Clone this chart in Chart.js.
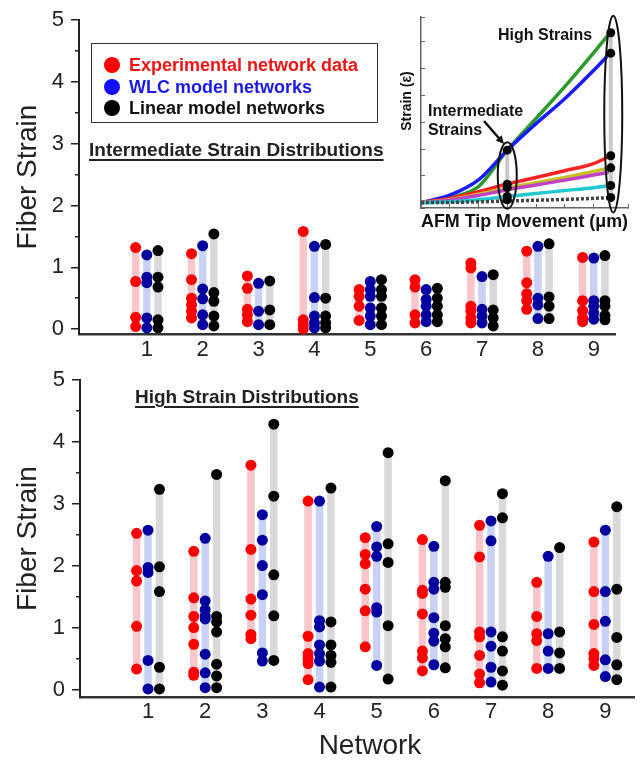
<!DOCTYPE html>
<html>
<head>
<meta charset="utf-8">
<script src="https://cdn.jsdelivr.net/npm/chart.js"></script>
<style>
  body { margin: 0; width: 640px; height: 760px; overflow: hidden; position: relative; background: #fff;
         font-family: "Liberation Sans", Arial, sans-serif; }
  canvas { position: absolute; }
  .txt { position: absolute; white-space: nowrap; }
  .legend { position: absolute; left: 91px; top: 43px; width: 285px; height: 78px; border: 1.5px solid #333; }
  .row { position: absolute; left: 12px; height: 22px; line-height: 22px; font-weight: bold; font-size: 18px; }
  .dot { display: inline-block; width: 16px; height: 16px; border-radius: 50%; vertical-align: -2px; margin-right: 9px; }
  .sub { font-weight: bold; font-size: 19px; line-height: 19px; color: #222; text-decoration: underline;
         text-decoration-thickness: 2px; text-underline-offset: 3px; }
  .ins { font-weight: bold; font-size: 16px; line-height: 16px; color: #111; }
</style>
</head>
<body>
<canvas id="topChart" width="640" height="360" style="left:0;top:0"></canvas>
<canvas id="bottomChart" width="640" height="400" style="left:0;top:360px"></canvas>
<canvas id="insetChart" width="260" height="240" style="left:380px;top:0"></canvas>

<div class="legend">
  <div class="row" style="top:10px;color:#f01414"><span class="dot" style="background:#ff0000"></span>Experimental network data</div>
  <div class="row" style="top:32px;color:#1a1ae6"><span class="dot" style="background:#1010ff"></span>WLC model networks</div>
  <div class="row" style="top:53px;color:#111"><span class="dot" style="background:#000"></span>Linear model networks</div>
</div>
<div class="txt sub" style="left:89px;top:140px">Intermediate Strain Distributions</div>
<div class="txt sub" style="left:135px;top:387px">High Strain Distributions</div>
<div class="txt" style="left:370px;top:745px;transform:translate(-50%,-50%);font-size:28px;color:#222">Network</div>

<div class="txt ins" style="left:498px;top:27px">High Strains</div>
<div class="txt ins" style="left:428px;top:103px">Intermediate</div>
<div class="txt ins" style="left:428px;top:122px">Strains</div>
<div class="txt" style="left:406px;top:101px;transform:translate(-50%,-50%) rotate(-90deg);font-weight:bold;font-size:14px;color:#111">Strain (ε)</div>

<script>
// networks on the x axis
var networks = [1, 2, 3, 4, 5, 6, 7, 8, 9];

// intermediate strain distributions (fiber strain values per network)
var interExp = [
  [1.32, 0.77, 0.19, 0.04],
  [1.22, 0.80, 0.50, 0.39, 0.29, 0.18],
  [0.86, 0.66, 0.32, 0.23, 0.12],
  [1.58, 0.15, 0.07, 0.00],
  [0.64, 0.53, 0.37, 0.14],
  [0.80, 0.68, 0.23, 0.10],
  [1.07, 0.99, 0.37, 0.29, 0.18, 0.10],
  [1.26, 0.75, 0.57, 0.46, 0.32],
  [1.16, 0.46, 0.30, 0.18, 0.12]
];
var interWlc = [
  [1.20, 0.84, 0.75, 0.18, 0.02],
  [1.35, 0.65, 0.49, 0.23, 0.07],
  [0.74, 0.29, 0.07],
  [1.34, 0.51, 0.21, 0.10, 0.02],
  [0.77, 0.64, 0.53, 0.34, 0.21, 0.07],
  [0.64, 0.48, 0.37, 0.23, 0.12],
  [0.85, 0.32, 0.21, 0.10],
  [1.34, 0.50, 0.39, 0.17],
  [1.15, 0.46, 0.37, 0.26, 0.16]
];
var interLin = [
  [1.27, 0.84, 0.68, 0.15, 0.02],
  [1.54, 0.59, 0.45, 0.21, 0.05],
  [0.78, 0.31, 0.07],
  [1.37, 0.50, 0.21, 0.10, 0.02],
  [0.80, 0.64, 0.53, 0.34, 0.21, 0.07],
  [0.66, 0.50, 0.37, 0.23, 0.12],
  [0.88, 0.31, 0.18, 0.05],
  [1.38, 0.52, 0.37, 0.17],
  [1.19, 0.46, 0.37, 0.22, 0.15]
];

// high strain distributions
var highExp = [
  [2.53, 1.93, 1.76, 1.03, 0.34],
  [2.24, 1.49, 1.19, 1.01, 0.74, 0.29, 0.24],
  [3.63, 2.27, 1.47, 1.21, 0.90, 0.83],
  [3.05, 0.87, 0.59, 0.51, 0.43, 0.17],
  [2.46, 2.19, 2.04, 1.63, 1.28, 0.70],
  [2.43, 1.61, 1.56, 1.23, 0.63, 0.52, 0.31],
  [2.66, 2.15, 0.94, 0.86, 0.56, 0.26, 0.12],
  [1.74, 1.19, 0.91, 0.80, 0.35],
  [2.39, 1.59, 1.06, 0.59, 0.51, 0.40]
];
var highWlc = [
  [2.58, 1.98, 1.90, 0.48, 0.02],
  [2.45, 1.44, 1.30, 1.20, 1.15, 0.58, 0.28, 0.04],
  [2.83, 2.42, 2.01, 1.54, 0.60, 0.47],
  [3.05, 1.12, 1.02, 0.73, 0.59, 0.47, 0.05],
  [2.64, 2.31, 2.16, 1.33, 1.26, 0.40],
  [2.32, 1.74, 1.63, 1.17, 0.92, 0.79, 0.41],
  [2.73, 2.41, 0.94, 0.71, 0.37, 0.13],
  [2.16, 0.91, 0.63, 0.35],
  [2.58, 1.59, 1.11, 0.49, 0.22]
];
var highLin = [
  [3.24, 1.99, 1.59, 0.37, 0.02],
  [3.48, 1.19, 1.10, 0.94, 0.42, 0.23, 0.04],
  [4.29, 3.13, 1.86, 1.20, 0.48],
  [3.26, 1.10, 0.73, 0.56, 0.45, 0.05],
  [3.83, 2.36, 2.06, 1.04, 0.18],
  [3.38, 1.74, 1.66, 1.04, 0.83, 0.70, 0.36],
  [3.17, 2.78, 0.86, 0.63, 0.31, 0.08],
  [2.30, 0.94, 0.60, 0.35],
  [2.96, 1.63, 0.85, 0.41, 0.17]
];

// inset: strain vs AFM tip movement
var tipMovement = [0, 1, 2, 3, 4, 5, 6, 6.6];
var curveGreen   = [0, 0.19, 0.60, 1.96, 3.14, 4.33, 5.59, 6.38];
var curveBlue    = [0, 0.28, 0.85, 1.96, 2.95, 3.88, 4.93, 5.61];
var curveRed     = [0, 0.16, 0.41, 0.70, 0.94, 1.19, 1.46, 1.75];
var curveYellow  = [0, 0.11, 0.31, 0.54, 0.74, 0.94, 1.16, 1.30];
var curveMagenta = [0, 0.09, 0.27, 0.48, 0.66, 0.84, 1.03, 1.14];
var curveCyan    = [0, 0.03, 0.11, 0.23, 0.34, 0.45, 0.56, 0.64];
var curveBlack   = [0, 0.01, 0.03, 0.06, 0.09, 0.12, 0.16, 0.19];
var interTip = 3, highTip = 6.6;
var interDots = [1.96, 0.69, 0.56, 0.23, 0.11];
var highDots = [6.34, 5.58, 1.75, 1.30, 0.64, 0.19];

Chart.defaults.font.family = '"Liberation Sans", Arial, sans-serif';
Chart.defaults.color = '#222';

function dotPoints(groups, off) {
  var pts = [];
  groups.forEach(function(g, i) {
    g.forEach(function(v) { pts.push({x: networks[i] + off, y: v}); });
  });
  return pts;
}
function rangePoints(groups, off) {
  var pts = [];
  groups.forEach(function(g, i) {
    var x = networks[i] + off;
    pts.push({x: x, y: Math.min.apply(null, g)}, {x: x, y: Math.max.apply(null, g)}, {x: x, y: null});
  });
  return pts;
}

function strainDatasets(exp, wlc, lin) {
  var series = [
    [exp, -0.2, '#ff0000', '#f8c6cb'],
    [wlc, 0, '#0000a0', '#c9d1f4'],
    [lin, 0.2, '#000000', '#d9d9d9']
  ];
  var sets = [];
  series.forEach(function(s) {
    sets.push({data: dotPoints(s[0], s[1]), backgroundColor: s[2], borderWidth: 0,
               pointRadius: 5.5, pointHoverRadius: 5.5, clip: false, order: 0});
    sets.push({data: rangePoints(s[0], s[1]), showLine: true, spanGaps: false, borderColor: s[3],
               borderWidth: 7.5, pointRadius: 0, order: 1});
  });
  return sets;
}

function strainOptions(xmin, xmax, ymin, yAxisWidth, xAxisHeight, padTop, padRight, labelPad) {
  return {
    responsive: false,
    animation: false,
    devicePixelRatio: 1,
    layout: {padding: {top: padTop, right: padRight, bottom: 0, left: 0}},
    plugins: {legend: {display: false}, tooltip: {enabled: false}},
    scales: {
      x: {
        type: 'linear', min: xmin, max: xmax,
        afterFit: function(s) { s.height = xAxisHeight; },
        border: {color: '#333', width: 2.5},
        grid: {drawOnChartArea: false, drawTicks: false},
        ticks: {stepSize: 1, includeBounds: false, autoSkip: false, maxRotation: 0, padding: labelPad,
                font: {size: 22},
                callback: function(v) { return (v >= 1 && v <= 9 && Number.isInteger(v)) ? v : ''; }}
      },
      y: {
        min: ymin, max: 5,
        afterFit: function(s) { s.width = yAxisWidth; },
        border: {color: '#222', width: 2},
        // half-unit ticks: only the 4px next to the axis is drawn
        grid: {drawOnChartArea: false, tickLength: 8, color: '#222', lineWidth: 1.5,
               tickBorderDash: function(c) { return Number.isInteger(c.tick.value) ? [] : [0, 4, 4, 100]; }},
        ticks: {stepSize: 0.5, includeBounds: false, padding: 7, font: {size: 22},
                callback: function(v) { return Number.isInteger(v) ? v : ''; }},
        title: {display: true, text: 'Fiber Strain', font: {size: 28}, padding: {top: 11, bottom: 0}}
      }
    }
  };
}

new Chart(document.getElementById('topChart'), {
  type: 'scatter',
  data: {datasets: strainDatasets(interExp, interWlc, interLin)},
  options: strainOptions(-0.214, 9.38, -0.08, 79, 26, 20, 25, 3)
});

new Chart(document.getElementById('bottomChart'), {
  type: 'scatter',
  data: {datasets: strainDatasets(highExp, highWlc, highLin)},
  options: strainOptions(-0.19, 9.51, -0.11, 80, 63, 18, 0, 2)
});

// inset chart
function curve(values) {
  return tipMovement.map(function(t, i) { return {x: t, y: values[i]}; });
}
function column(x, values) {
  return values.map(function(v) { return {x: x, y: v}; });
}
function bar(x, values) {
  return [{x: x, y: Math.min.apply(null, values)}, {x: x, y: Math.max.apply(null, values)}];
}

var insetMarks = {
  id: 'insetMarks',
  afterDatasetsDraw: function(chart) {
    var ctx = chart.ctx, xs = chart.scales.x, ys = chart.scales.y;
    ctx.save();
    ctx.strokeStyle = '#111';
    ctx.lineWidth = 2;
    function ring(xv, vals, dx, rx, m1, m2) {
      var top = ys.getPixelForValue(Math.max.apply(null, vals)) - m1;
      var bottom = ys.getPixelForValue(Math.min.apply(null, vals)) + m2;
      ctx.beginPath();
      ctx.ellipse(xs.getPixelForValue(xv) + dx, (top + bottom) / 2, rx, (bottom - top) / 2, 0, 0, Math.PI * 2);
      ctx.stroke();
    }
    ring(interTip, interDots, 0, 9.5, 8, 9);
    ring(highTip, highDots, 2.5, 9, 17, 15);
    // arrow pointing at the intermediate strains
    var x1 = 104, y1 = 121, x2 = 124, y2 = 144;
    var a = Math.atan2(y2 - y1, x2 - x1);
    ctx.lineWidth = 2.5;
    ctx.beginPath();
    ctx.moveTo(x1, y1);
    ctx.lineTo(x2 - 6 * Math.cos(a), y2 - 6 * Math.sin(a));
    ctx.stroke();
    ctx.fillStyle = '#111';
    ctx.beginPath();
    ctx.moveTo(x2, y2);
    ctx.lineTo(x2 - 9 * Math.cos(a - 0.45), y2 - 9 * Math.sin(a - 0.45));
    ctx.lineTo(x2 - 9 * Math.cos(a + 0.45), y2 - 9 * Math.sin(a + 0.45));
    ctx.closePath();
    ctx.fill();
    ctx.restore();
  }
};

function line(values, color, dash) {
  return {data: curve(values), showLine: true, borderColor: color, borderWidth: 3.5, borderDash: dash || [],
          pointRadius: 0, cubicInterpolationMode: 'monotone', order: 2};
}

new Chart(document.getElementById('insetChart'), {
  type: 'scatter',
  data: {
    datasets: [
      {data: column(interTip, interDots), backgroundColor: '#000', borderWidth: 0, pointRadius: 4.5, clip: false, order: 0},
      {data: column(highTip, highDots), backgroundColor: '#000', borderWidth: 0, pointRadius: 4.5, clip: false, order: 0},
      {data: bar(interTip, interDots), showLine: true, borderColor: '#c8c8c8', borderWidth: 4, pointRadius: 0, order: 1},
      {data: bar(highTip, highDots), showLine: true, borderColor: '#c8c8c8', borderWidth: 4, pointRadius: 0, order: 1},
      line(curveBlack, '#444', [3, 2]),
      line(curveCyan, '#22c8d0'),
      line(curveMagenta, '#c040c8'),
      line(curveYellow, '#c8c020'),
      line(curveRed, '#ff2020'),
      line(curveBlue, '#1a1aff'),
      line(curveGreen, '#2a9a2a')
    ]
  },
  options: {
    responsive: false,
    animation: false,
    devicePixelRatio: 1,
    layout: {padding: {top: 17, right: 12, bottom: 0, left: 0}},
    plugins: {legend: {display: false}, tooltip: {enabled: false}},
    scales: {
      x: {
        type: 'linear', min: 0, max: 7.2,
        afterFit: function(s) { s.height = 32; },
        border: {color: '#666', width: 1.5},
        grid: {drawOnChartArea: false, tickLength: -4, color: '#666'},
        ticks: {display: false, stepSize: 1},
        title: {display: true, text: 'AFM Tip Movement (μm)', color: '#111',
                font: {size: 18, weight: 'bold'}, padding: {top: 0, bottom: 7}}
      },
      y: {
        min: -0.2, max: 6.93,
        afterFit: function(s) { s.width = 41; },
        border: {color: '#666', width: 1.5},
        grid: {drawOnChartArea: false, tickLength: -4, color: '#666'},
        ticks: {display: false, stepSize: 1}
      }
    }
  },
  plugins: [insetMarks]
});
</script>
</body>
</html>
